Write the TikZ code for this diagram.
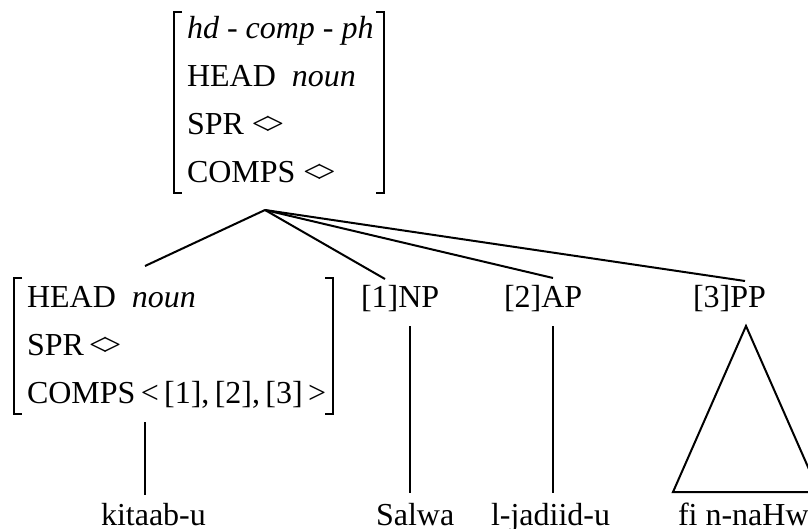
\documentclass[tikz,border=0pt]{standalone}
\usepackage{fontspec}
\setmainfont{Liberation Serif}
\newcommand{\elist}{<\kern-0.13em>}

\begin{document}
\begin{tikzpicture}[x=0.5pt,y=-0.5pt,line width=1pt]
                \tikzstyle{every node}=[inner sep=0pt,anchor=base west,font=\fontsize{16}{18}\selectfont]
                \useasboundingbox (0,0) rectangle (808,529);
                % mother: hd-comp-ph
                \node (m1) at (186,39) {\textit{hd - comp - ph}};
                \node (m2) at (186,87) {HEAD~~\textit{noun}};
                \node (m3) at (186,135) {SPR \elist};
                \node (m4) at (186,183) {COMPS \elist};
                \draw (182,12)--(174,12)--(174,193)--(182,193);
                \draw (376,12)--(384,12)--(384,193)--(376,193);
                % head daughter
                \node (h1) at (26,307) {HEAD~~\textit{noun}};
                \node (h2) at (26,355) {SPR\,\elist};
                \node (h3) at (26,403) {COMPS\,<\,[1],\,[2],\,[3]\,>};
                \draw (22,278)--(14,278)--(14,414)--(22,414);
                \draw (325,278)--(333,278)--(333,414)--(325,414);
                % complements
                \node (np) at (360,307) {[1]NP};
                \node (ap) at (503,307) {[2]AP};
                \node (pp) at (692,307) {[3]PP};
                % words
                \node (w0) at (100,525) {kitaab-u};
                \node (w1) at (375,525) {Salwa};
                \node (w2) at (490,525) {l-jadiid-u};
                \node (w3) at (677,525) {fi n-naHw};
                % branches
                \coordinate (mo) at (265,210);
                \coordinate (hdup) at (145,266);
                \coordinate (npup) at (385,279);
                \coordinate (apup) at (553,278);
                \coordinate (ppup) at (745,281);
                \foreach \c in {hdup,npup,apup,ppup}
                    \draw (mo)--(\c);
                \draw (145,422)--(145,495);
                \draw (410,326)--(410,493);
                \draw (553,326)--(553,493);
                \draw (746,326)--(673,492)--(819,492)--cycle;
            \end{tikzpicture}
\end{document}
